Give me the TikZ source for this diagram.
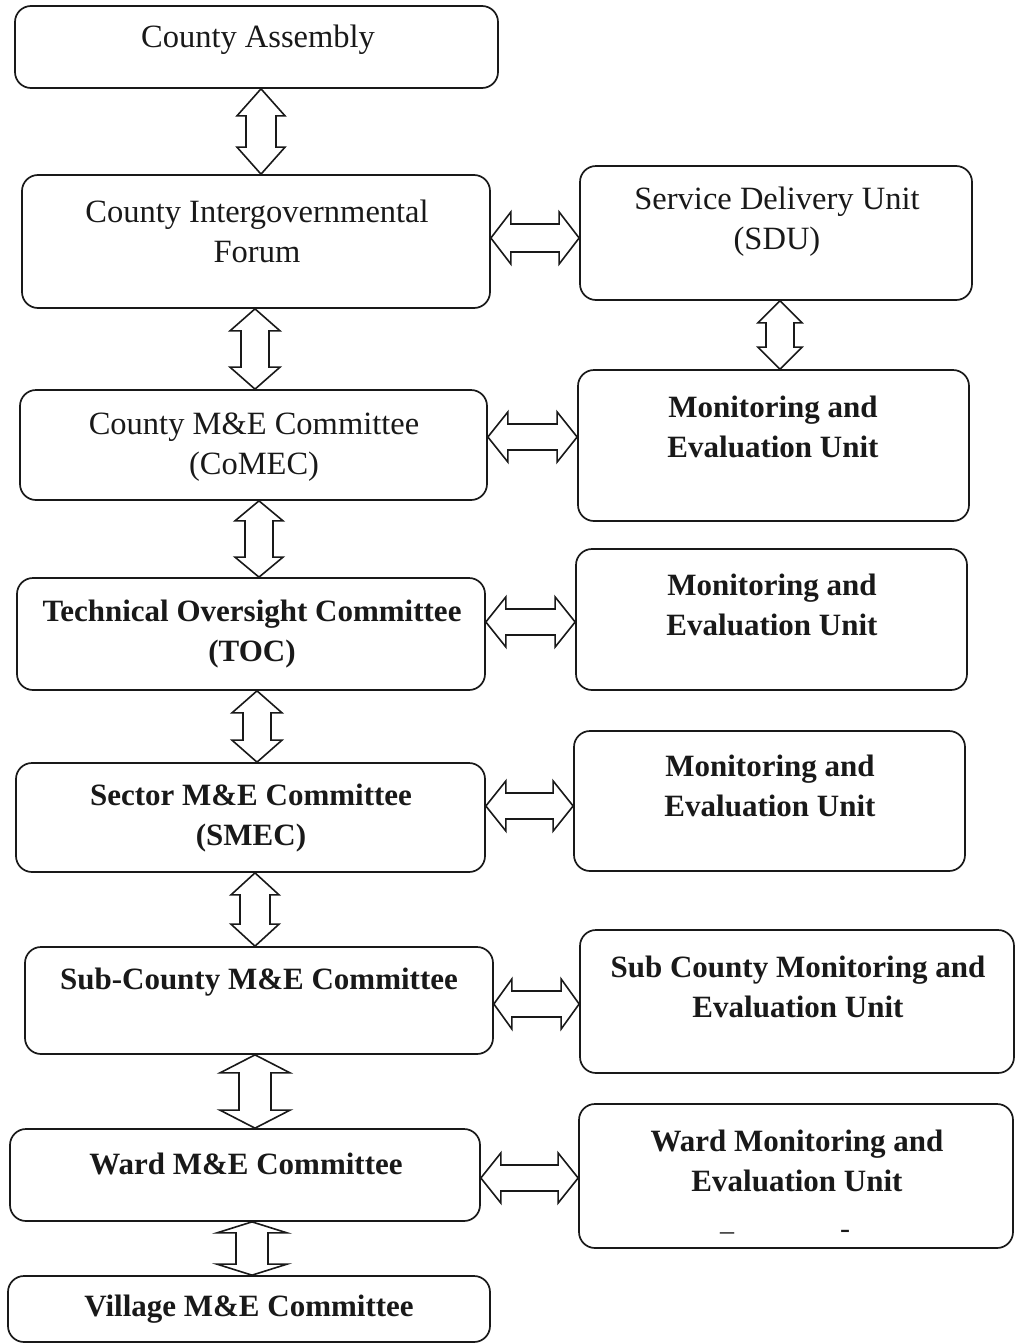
\documentclass[tikz,border=0pt]{standalone}
\usepackage{fontspec}
\setmainfont{Liberation Serif}
\usetikzlibrary{calc,fit}
\definecolor{ink}{RGB}{25,25,25}
\tikzset{
  box/.style={draw=ink, line width=1.7pt, rounded corners=16pt, inner sep=0pt},
  lbl/.style={text=ink, align=center, inner sep=0pt, font=\fontsize{32.5}{40}\selectfont},
  lblb/.style={text=ink, align=center, inner sep=0pt, font=\fontsize{31}{40}\selectfont\bfseries},
  fatv/.style n args={3}{to path={let \p1=(\tikztostart), \p2=(\tikztotarget) in
    (\p1) -- (\x1+#1,\y1-#2) -- (\x1+#3,\y1-#2) -- (\x1+#3,\y2+#2) -- (\x1+#1,\y2+#2)
    -- (\x1,\y2) -- (\x1-#1,\y2+#2) -- (\x1-#3,\y2+#2) -- (\x1-#3,\y1-#2) -- (\x1-#1,\y1-#2) -- cycle}},
  fath/.style n args={3}{to path={let \p1=(\tikztostart), \p2=(\tikztotarget) in
    (\p1) -- (\x1+#2,\y1+#1) -- (\x1+#2,\y1+#3) -- (\x2-#2,\y1+#3) -- (\x2-#2,\y1+#1)
    -- (\x2,\y1) -- (\x2-#2,\y1-#1) -- (\x2-#2,\y1-#3) -- (\x1+#2,\y1-#3) -- (\x1+#2,\y1-#1) -- cycle}},
  fat/.style={draw=ink, fill=white, line width=1.6pt, line join=miter},
}
\begin{document}
\begin{tikzpicture}[x=1pt,y=-1pt]
\useasboundingbox (0,0) rectangle (1017,1344);
% boxes
\node[box, fit={(15,6) (498,88)}] (ca) {};
\node[box, fit={(22,175) (490,308)}] (cif) {};
\node[box, fit={(580,166) (972,300)}] (sdu) {};
\node[box, fit={(20,390) (487,500)}] (comec) {};
\node[box, fit={(578,370) (969,521)}] (meua) {};
\node[box, fit={(17,578) (485,690)}] (toc) {};
\node[box, fit={(576,549) (967,690)}] (meub) {};
\node[box, fit={(16,763) (485,872)}] (smec) {};
\node[box, fit={(574,731) (965,871)}] (meuc) {};
\node[box, fit={(25,947) (493,1054)}] (scmec) {};
\node[box, fit={(580,930) (1014,1073)}] (scu) {};
\node[box, fit={(10,1129) (480,1221)}] (wmec) {};
\node[box, fit={(579,1104) (1013,1248)}] (wu) {};
\node[box, fit={(8,1276) (490,1342)}] (vmec) {};
% labels
\node[lbl] (ca-t) at (258,40) {County Assembly};
\node[lbl] (cif-t) at (257,231) {County Intergovernmental\\Forum};
\node[lbl] (sdu-t) at (777,222) {Service Delivery Unit\\(SDU)};
\node[lbl] (comec-t) at (254,447) {County M\&E Committee\\(CoMEC)};
\node[lblb] (meua-t) at (773,427) {Monitoring and\\Evaluation Unit};
\node[lblb] (toc-t) at (252,634) {Technical Oversight Committee\\(TOC)};
\node[lblb] (meub-t) at (772,605) {Monitoring and\\Evaluation Unit};
\node[lblb] (smec-t) at (251,818) {Sector M\&E Committee\\(SMEC)};
\node[lblb] (meuc-t) at (770,786) {Monitoring and\\Evaluation Unit};
\node[lblb] (scmec-t) at (259,982) {Sub-County M\&E Committee};
\node[lblb] (scu-t) at (798,987) {Sub County Monitoring and\\Evaluation Unit};
\node[lblb] (wmec-t) at (246,1164) {Ward M\&E Committee};
\node[lblb] (wu-t) at (797,1161) {Ward Monitoring and\\Evaluation Unit};
\node[lbl, font=\fontsize{28}{28}\selectfont] (wu-d1) at (727,1232) {\_};
\node[lbl, font=\fontsize{30}{30}\selectfont] (wu-d2) at (845,1234) {-};
\node[lblb] (vmec-t) at (249,1309) {Village M\&E Committee};
% vertical double arrows
\draw[fat] (ca.south -| 261,0) to[fatv={24pt}{27pt}{15pt}] (cif.north -| 261,0);
\draw[fat] (cif.south -| 255,0) to[fatv={25pt}{22pt}{14pt}] (comec.north -| 255,0);
\draw[fat] (comec.south -| 259,0) to[fatv={24pt}{20pt}{14pt}] (toc.north -| 259,0);
\draw[fat] (toc.south -| 257,0) to[fatv={25pt}{22pt}{14pt}] (smec.north -| 257,0);
\draw[fat] (smec.south -| 255,0) to[fatv={24pt}{22pt}{15pt}] (scmec.north -| 255,0);
\draw[fat] (scmec.south -| 255,0) to[fatv={35pt}{18pt}{16pt}] (wmec.north -| 255,0);
\draw[fat] (wmec.south -| 252,0) to[fatv={35pt}{11pt}{16pt}] (vmec.north -| 252,0);
\draw[fat] (sdu.south -| 780,0) to[fatv={22pt}{22pt}{14pt}] (meua.north -| 780,0);
% horizontal double arrows
\draw[fat] (cif.east |- 0,238) to[fath={26pt}{20pt}{14pt}] (sdu.west |- 0,238);
\draw[fat] (comec.east |- 0,437) to[fath={25pt}{20pt}{13pt}] (meua.west |- 0,437);
\draw[fat] (toc.east |- 0,622) to[fath={25pt}{20pt}{13pt}] (meub.west |- 0,622);
\draw[fat] (smec.east |- 0,806) to[fath={25pt}{20pt}{13pt}] (meuc.west |- 0,806);
\draw[fat] (scmec.east |- 0,1004) to[fath={25pt}{18pt}{13pt}] (scu.west |- 0,1004);
\draw[fat] (wmec.east |- 0,1178) to[fath={25pt}{20pt}{13pt}] (wu.west |- 0,1178);
\end{tikzpicture}
\end{document}
